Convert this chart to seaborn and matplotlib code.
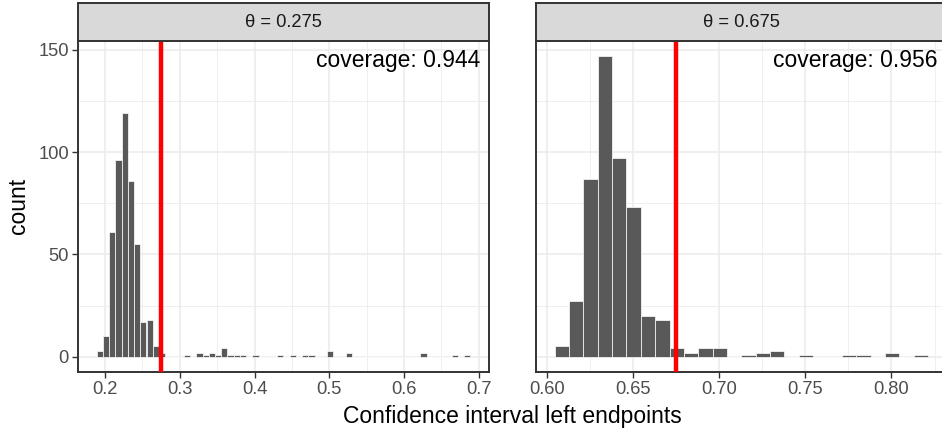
import numpy as np
import pandas as pd
import seaborn as sns
import matplotlib.pyplot as plt
from matplotlib.ticker import MultipleLocator

# ---- data ----
bin_width = 1 / 120

# theta = 0.275 panel
left_theta = 0.275
left_start = 0.1888
left_bins = [0, 1, 2, 3, 4, 5, 6, 7, 8, 9, 10,
             14, 16, 17, 18, 19, 20, 21, 22, 23, 25, 29, 31, 33, 34, 37, 40, 52, 57, 59]
left_counts = [3, 10, 61, 96, 119, 86, 55, 17, 18, 5, 2,
               1, 2, 1, 2, 1, 4, 1, 1, 1, 1, 1, 1, 1, 1, 3, 2, 2, 1, 1]
left_nbins = 60
left_coverage = "coverage: 0.944"

# theta = 0.675 panel
right_theta = 0.675
right_start = 0.6046
right_bins = [0, 1, 2, 3, 4, 5, 6, 7, 8, 9, 10, 11, 13, 14, 15, 17, 20, 21, 23, 25]
right_counts = [5, 27, 87, 147, 97, 73, 20, 18, 4, 2, 4, 4, 1, 2, 3, 1, 1, 1, 2, 1]
right_nbins = 26
right_coverage = "coverage: 0.956"

sns.set_theme(style="white")
plt.rcParams['font.family'] = ['Liberation Sans', 'DejaVu Sans']

W, H = 942, 430
fig = plt.figure(figsize=(W / 100, H / 100), dpi=100)

panel_bottom = 1 - 371.7 / H
panel_h = 330.7 / H
strip_bottom = 1 - 41 / H
strip_h = 37.7 / H

panels = [
    dict(x0=78, theta=left_theta, start=left_start, bins=left_bins, counts=left_counts,
         nbins=left_nbins, cov=left_coverage, xlim=(0.1638, 0.7138), major=0.1, minor=0.05,
         fmt="{:.1f}"),
    dict(x0=536, theta=right_theta, start=right_start, bins=right_bins, counts=right_counts,
         nbins=right_nbins, cov=right_coverage, xlim=(0.5938, 0.8322), major=0.05, minor=0.025,
         fmt="{:.2f}"),
]

for i, p in enumerate(panels):
    ax = fig.add_axes([p['x0'] / W, panel_bottom, 411 / W, panel_h])
    df = pd.DataFrame({
        'mid': p['start'] + (np.array(p['bins']) + 0.5) * bin_width,
        'count': p['counts'],
    })
    edges = [float(e) for e in p['start'] + bin_width * np.arange(p['nbins'] + 1)]
    sns.histplot(data=df, x='mid', weights='count', bins=edges, ax=ax,
                 color='#595959', edgecolor='white', linewidth=0.5, alpha=1, zorder=2)
    ax.axvline(p['theta'], color='red', lw=3.2, zorder=3)

    ax.set_xlim(*p['xlim'])
    ax.set_ylim(-7.35, 154.35)
    ax.xaxis.set_minor_locator(MultipleLocator(p['minor']))
    ax.yaxis.set_major_locator(MultipleLocator(50))
    ax.yaxis.set_minor_locator(MultipleLocator(25))
    ticks = [round(t, 3) for t in np.arange(0, 1.0001, p['major']) if p['xlim'][0] <= t <= p['xlim'][1]]
    ax.set_xticks(ticks)
    ax.set_xticklabels([p['fmt'].format(t) for t in ticks])
    ax.set_xlim(*p['xlim'])

    ax.set_axisbelow(True)
    ax.grid(which='major', color='#EBEBEB', lw=1.1)
    ax.grid(which='minor', color='#EBEBEB', lw=0.55)
    for s in ax.spines.values():
        s.set_color('#333333')
        s.set_linewidth(1.4)
    ax.tick_params(axis='x', which='major', length=4, width=1, color='#333333',
                   labelsize=13.2, labelcolor='#4D4D4D', pad=2.5, bottom=True)
    ax.tick_params(which='minor', length=0)
    if i == 0:
        ax.tick_params(axis='y', which='major', length=4, width=1, color='#333333',
                       labelsize=13.2, labelcolor='#4D4D4D', pad=2.5, left=True)
        ax.set_ylabel('count', fontsize=16.5, color='black', labelpad=6)
    else:
        ax.tick_params(axis='y', which='both', left=False, labelleft=False)
        ax.set_ylabel('')
    ax.set_xlabel('')

    ax.text(1 - 9 / 411, 1 - 25.7 / 330.7, p['cov'], transform=ax.transAxes,
            ha='right', va='baseline', fontsize=16.5, color='black')

    # facet strip
    sax = fig.add_axes([p['x0'] / W, strip_bottom, 411 / W, strip_h])
    sax.set_facecolor('#D9D9D9')
    sax.set_xticks([])
    sax.set_yticks([])
    for s in sax.spines.values():
        s.set_color('#333333')
        s.set_linewidth(1.4)
    sax.text(0.5, 0.5, f"θ = {p['theta']}", transform=sax.transAxes,
             ha='center', va='center', fontsize=13.2, color='#1A1A1A')

fig.text(512 / W, 1 - 416 / H, 'Confidence interval left endpoints',
         ha='center', va='center', fontsize=16.5, color='black')

fig.savefig('out.png', dpi=100)
